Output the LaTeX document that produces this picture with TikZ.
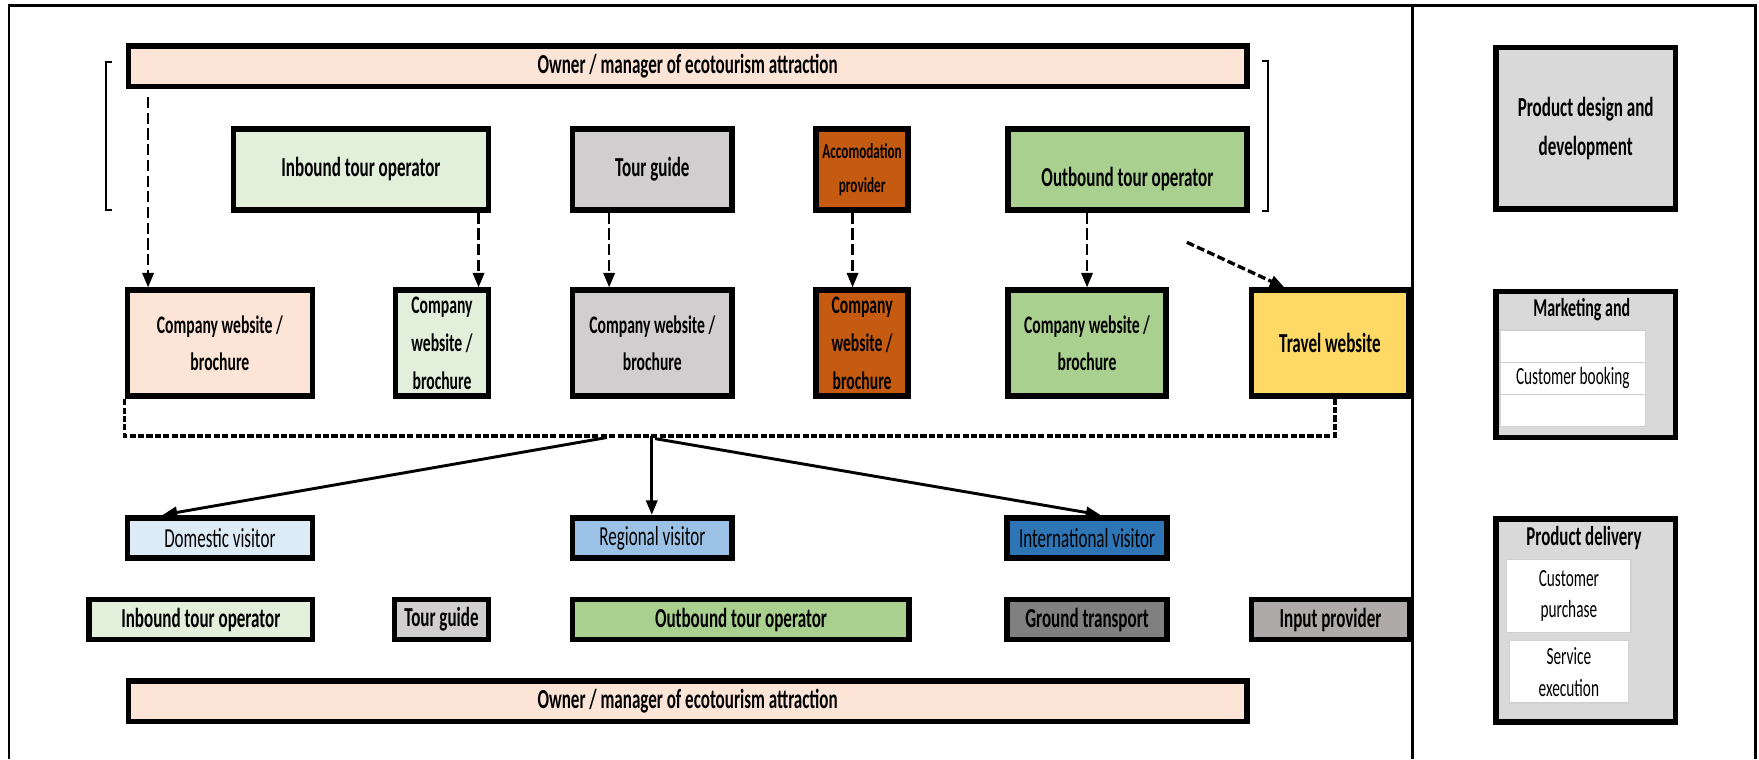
\documentclass[tikz,border=0pt]{standalone}
\usepackage{fontspec}
\setmainfont{Carlito}[FakeStretch=0.62]
\usetikzlibrary{positioning,arrows.meta,calc}

\definecolor{ownerfill}{HTML}{FCE4D6}
\definecolor{inbfill}{HTML}{E2EFDA}
\definecolor{guidefill}{HTML}{D0CECE}
\definecolor{accfill}{HTML}{C55A11}
\definecolor{outfill}{HTML}{A9D08E}
\definecolor{travelfill}{HTML}{FFD966}
\definecolor{domfill}{HTML}{DDEBF7}
\definecolor{regfill}{HTML}{9BC2E6}
\definecolor{intlfill}{HTML}{2E75B6}
\definecolor{groundfill}{HTML}{808080}
\definecolor{inputfill}{HTML}{AEAAAA}
\definecolor{panelfill}{HTML}{D9D9D9}

\begin{document}
\begin{tikzpicture}[x=1pt,y=-1pt,
box/.style={draw,line width=5pt,inner sep=1pt,align=center,font=\bfseries\fontsize{24.5}{34}\selectfont},
upper/.style={box,minimum height=72pt},
web/.style={box,minimum height=94.5pt,font=\bfseries\fontsize{22.5}{33.5}\selectfont},
ownerbar/.style={box,minimum height=36pt},
vis/.style={box,minimum height=36pt,font=\fontsize{24.5}{30}\selectfont},
panel/.style={box,fill=panelfill,minimum width=160pt},
ttl/.style={inner sep=0pt,align=center,font=\bfseries\fontsize{24.3}{34}\selectfont},
cell/.style={draw=black!18,line width=1.2pt,fill=white,inner sep=0pt,align=center,font=\fontsize{22}{28}\selectfont},
darr/.style={-{Triangle[length=13pt,width=10pt]},line width=2.4pt,dash pattern=on 10pt off 4pt},
arr/.style={-{Triangle[length=13pt,width=10pt]},line width=2.6pt},
bus/.style={line width=3pt,dash pattern=on 5.5pt off 2pt},
outline/.style={line width=2.2pt}]
\useasboundingbox (0,0) rectangle (1568,677);
% frame and divider
\draw[outline] (8,677) -- (8,5) -- (1565,5) -- (1565,677);
\draw[outline] (1259,5) -- (1259,677);

% stakeholders
\node[ownerbar,fill=ownerfill,minimum width=997pt] (ownerT) at (613,59) {Owner / manager of ecotourism attraction};
\node[upper,fill=inbfill,minimum width=227.5pt] (inbT) at (321.75,151) {Inbound tour operator};
\node[upper,fill=guidefill,minimum width=142pt] (guideT) at (581.5,151) {Tour guide};
\node[upper,fill=accfill,minimum width=82pt,inner sep=0pt,font=\bfseries\fontsize{19}{30}\selectfont] (accT) at (768.5,151) {Accomodation\\provider};
\node[upper,fill=outfill,minimum width=213pt] (outT) at (1005,151) {\mbox{}\\Outbound tour operator};
\draw[line width=1.8pt] (100,55) -- (94.5,55) -- (94.5,187) -- (100,187);
\draw[line width=1.8pt] (1125,54) -- (1130.5,54) -- (1130.5,188) -- (1125,188);

% websites
\node[web,fill=ownerfill,minimum width=165pt] (webO) at (196,306) {Company website /\\brochure};
\node[web,fill=inbfill,minimum width=83pt] (webI) at (394,306) {Company\\website /\\brochure};
\node[web,fill=guidefill,minimum width=142pt] (webG) at (581.5,306) {Company website /\\brochure};
\node[web,fill=accfill,minimum width=82pt] (webA) at (768.5,306) {Company\\website /\\brochure};
\node[web,fill=outfill,minimum width=141pt] (webU) at (969,306) {Company website /\\brochure};
\node[box,fill=travelfill,minimum width=140pt,minimum height=94.5pt] (travel) at (1185.5,306) {Travel website};

\draw[darr,shorten <=7pt] ([xshift=-64pt]webO.north |- ownerT.south) -- ([xshift=-64pt]webO.north);
\draw[darr] ([xshift=32.6pt]webI.north |- inbT.south) -- ([xshift=32.6pt]webI.north);
\draw[darr] ([xshift=-38.5pt]webG.north |- guideT.south) -- ([xshift=-38.5pt]webG.north);
\draw[darr] ([xshift=-8.5pt]webA.north |- accT.south) -- ([xshift=-8.5pt]webA.north);
\draw[darr] (webU.north |- outT.south) -- (webU.north);
\coordinate (tw) at (1058,216);
\draw[darr,line width=3pt,dash pattern=on 7pt off 3pt] (tw) -- ([xshift=-40.5pt]travel.north);

% visitors
\node[vis,fill=domfill,minimum width=165pt] (dom) at (196,479.5) {Domestic visitor};
\node[vis,fill=regfill,minimum width=142pt] (reg) at (581.5,479.5) {Regional visitor};
\node[vis,fill=intlfill,minimum width=143pt] (intl) at (969,479.5) {International visitor};

\draw[bus] (webO.south west) -- ++(0,33) -| ([xshift=4.5pt]travel.south);
\coordinate (busL) at (541,390);
\coordinate (busM) at (581,389);
\coordinate (busR) at (584,391);
\draw[arr] (busL) -- ([xshift=-51pt]dom.north);
\draw[arr] (busM) -- (busM |- reg.north);
\draw[arr] (busR) -- ([xshift=12pt]intl.north);

% delivery actors
\node[ownerbar,fill=inbfill,minimum width=199pt,minimum height=35.6pt] (inb) at (179,552.3) {Inbound tour operator};
\node[ownerbar,fill=guidefill,minimum width=84pt,minimum height=35.6pt] (guide) at (393.5,552.3) {Tour guide};
\node[ownerbar,fill=outfill,minimum width=300pt,minimum height=35.6pt] (outb) at (660.5,552.3) {Outbound tour operator};
\node[ownerbar,fill=groundfill,minimum width=143pt,minimum height=35.6pt] (ground) at (969,552.3) {Ground transport};
\node[ownerbar,fill=inputfill,minimum width=141pt,minimum height=35.6pt] (input) at (1186,552.3) {Input provider};
\node[ownerbar,fill=ownerfill,minimum width=997pt] (ownerB) at (613,625) {Owner / manager of ecotourism attraction};

% value chain stages
\node[panel,minimum height=144pt] (pdd) at (1413.5,114.5) {Product design and\\development};
\node[panel,minimum height=130pt] (mkt) at (1413.5,325) {};
\node[ttl,font=\bfseries\fontsize{23}{30}\selectfont] (mktT) at (1410,276) {Marketing and};
\node[cell,minimum width=130pt,minimum height=28.7pt] (mk1) at (1402,308.5) {};
\node[cell,minimum width=130pt,minimum height=28.7pt,below=-1.2pt of mk1] (mk2) {Customer booking};
\node[cell,minimum width=130pt,minimum height=28.7pt,below=-1.2pt of mk2] (mk3) {};
\node[panel,minimum height=181pt] (deliv) at (1413.5,553) {};
\node[ttl] (delivT) at (1412,479.5) {Product delivery};
\node[cell,minimum width=111pt,minimum height=65pt] (cust) at (1398.5,531.5) {Customer\\purchase};
\node[cell,minimum width=106pt,minimum height=55.5pt,below=6pt of cust] (serv) {Service\\execution};
\end{tikzpicture}
\end{document}
